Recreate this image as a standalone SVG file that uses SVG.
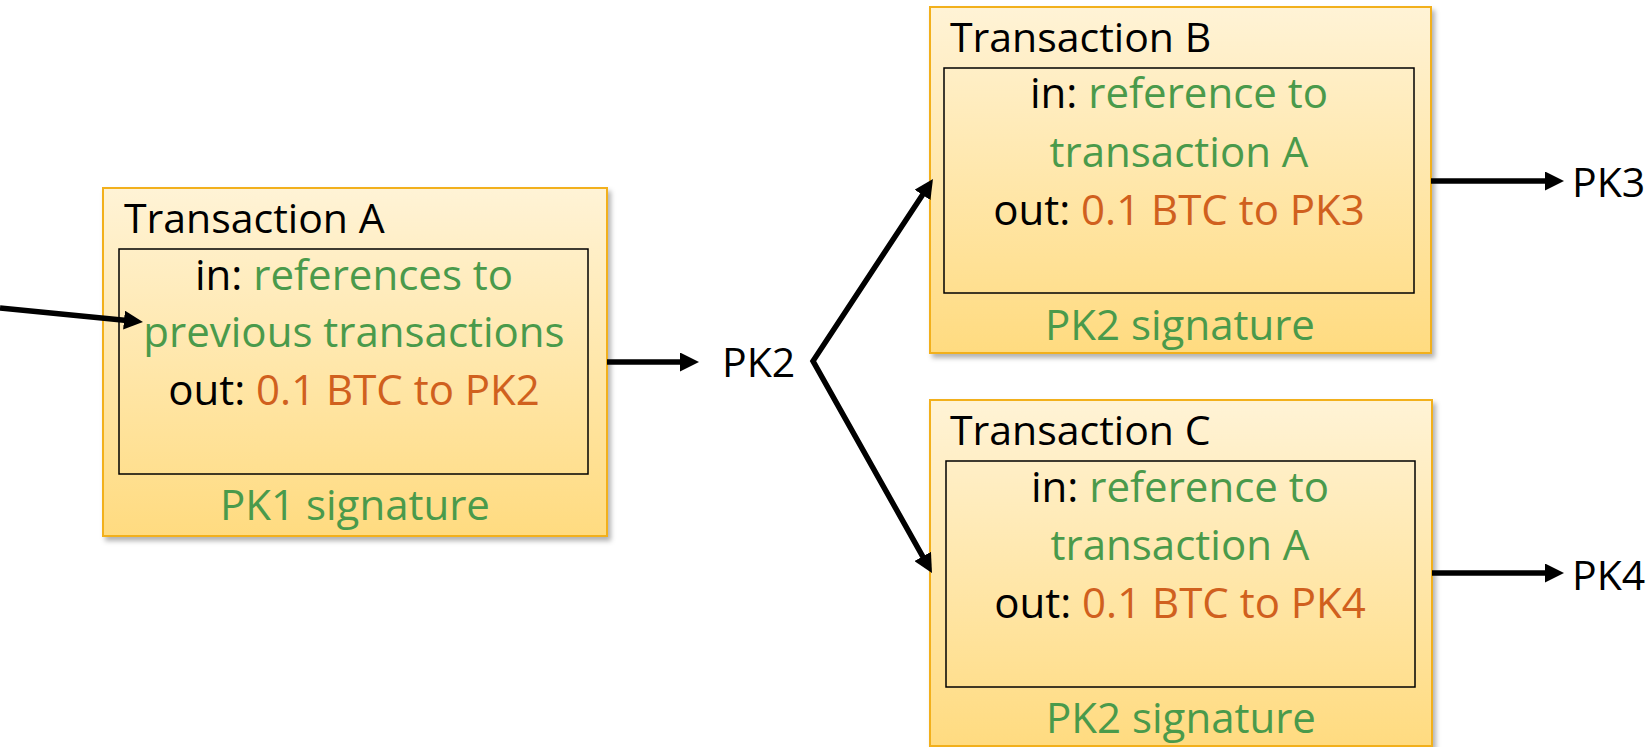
<svg xmlns="http://www.w3.org/2000/svg" width="1649" height="747" viewBox="0 0 1649 747">
  <defs>
    <linearGradient id="boxFill" x1="0" y1="0" x2="0" y2="1">
      <stop offset="0" stop-color="#FFF3D6"/>
      <stop offset="1" stop-color="#FFDB80"/>
    </linearGradient>
    <filter id="shadow" x="-5%" y="-5%" width="112%" height="112%">
      <feDropShadow dx="3" dy="4" stdDeviation="2.5" flood-color="#000" flood-opacity="0.3"/>
    </filter>
    <marker id="arrow" markerUnits="userSpaceOnUse" markerWidth="19" markerHeight="19" refX="8" refY="9.5" orient="auto-start-reverse">
      <path d="M0,0 L19,9.5 L0,19 z" fill="#000"/>
    </marker>
  </defs>
  <style>
    .outer { fill: url(#boxFill); stroke: #F2B01E; stroke-width: 2; filter: url(#shadow); }
    .inner { fill: none; stroke: #000; stroke-width: 1.5; }
    text { font-family: "Open Sans", "Noto Sans", sans-serif; font-size: 41px; fill: #000; }
    .c { text-anchor: middle; font-size: 42px; }
    .g { fill: #4A9A4B; }
    .o { fill: #D0601E; }
    .conn { fill: none; stroke: #000; stroke-width: 5.5; stroke-linejoin: miter; }
  </style>

  <g id="txA">
    <rect class="outer" x="103" y="188" width="504" height="348"/>
    <rect class="inner" x="119" y="249" width="469" height="225"/>
    <text x="124" y="233">Transaction A</text>
    <text class="c" x="354" y="290">in: <tspan class="g">references to</tspan></text>
    <text class="c g" x="354" y="347">previous transactions</text>
    <text class="c" x="354" y="405">out: <tspan class="o">0.1 BTC to PK2</tspan></text>
    <text class="c g" x="355" y="520">PK1 signature</text>
  </g>

  <g id="txB">
    <rect class="outer" x="930" y="7" width="501" height="346"/>
    <rect class="inner" x="944" y="68" width="470" height="225"/>
    <text x="950" y="52">Transaction B</text>
    <text class="c" x="1179" y="108">in: <tspan class="g">reference to</tspan></text>
    <text class="c g" x="1179" y="167">transaction A</text>
    <text class="c" x="1179" y="225">out: <tspan class="o">0.1 BTC to PK3</tspan></text>
    <text class="c g" x="1180" y="340">PK2 signature</text>
  </g>

  <g id="txC">
    <rect class="outer" x="930" y="400" width="502" height="346"/>
    <rect class="inner" x="946" y="461" width="469" height="226"/>
    <text x="950" y="445">Transaction C</text>
    <text class="c" x="1180" y="502">in: <tspan class="g">reference to</tspan></text>
    <text class="c g" x="1180" y="560">transaction A</text>
    <text class="c" x="1180" y="618">out: <tspan class="o">0.1 BTC to PK4</tspan></text>
    <text class="c g" x="1181" y="733">PK2 signature</text>
  </g>

  <g id="pk2"><text x="722" y="377">PK2</text></g>
  <g id="pk3"><text x="1572" y="197">PK3</text></g>
  <g id="pk4"><text x="1572" y="590">PK4</text></g>

  <g id="connectors">
    <path class="conn" d="M0,308 L132,320.9" marker-end="url(#arrow)"/>
    <path class="conn" d="M607,362 L688,362" marker-end="url(#arrow)"/>
    <path class="conn" d="M926.9,188.2 L813,361 L926.6,563.4" marker-start="url(#arrow)" marker-end="url(#arrow)"/>
    <path class="conn" d="M1431,181 L1553,181" marker-end="url(#arrow)"/>
    <path class="conn" d="M1432,573 L1553,573" marker-end="url(#arrow)"/>
  </g>
</svg>
